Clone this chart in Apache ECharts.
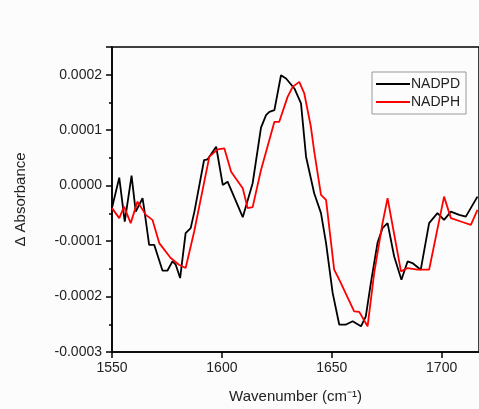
<!DOCTYPE html>
<html>
<head>
<meta charset="utf-8">
<script src="https://cdn.jsdelivr.net/npm/echarts@6/dist/echarts.min.js"></script>
<style>
  html, body { margin: 0; padding: 0; background: #fcfcfc; }
  #chart { width: 479px; height: 409px; }
</style>
</head>
<body>
<div id="chart"></div>
<script>
// Difference spectra: wavenumber (cm-1) and change in absorbance
const nadpdWavenumber = [1550, 1553.3, 1555.8, 1558.9, 1560.8, 1563.9, 1564.6, 1566.9, 1569.2, 1573.0,
  1575.2, 1577.5, 1579.0, 1581.0, 1583.5, 1585.8, 1587.5, 1591.9, 1593.5, 1597.4,
  1600.4, 1602.6, 1609.5, 1614.0, 1617.8, 1620.1, 1621.6, 1623.9, 1626.9, 1629.2,
  1633.0, 1636.0, 1638.3, 1642.0, 1645.1, 1647.4, 1650.4, 1653.4, 1656.5, 1659.5,
  1663.3, 1665.5, 1667.8, 1670.8, 1673.1, 1675.4, 1678.4, 1681.7, 1684.5, 1686.7,
  1690.5, 1694.3, 1698.1, 1701.1, 1704.2, 1708.0, 1711.0, 1716.3];
const nadpdDelta = [-0.0000401, 0.0000144, -0.0000648, 0.0000180, -0.0000468, -0.0000227, -0.0000406, -0.0001067, -0.0001067, -0.0001534,
  -0.0001534, -0.0001367, -0.0001426, -0.0001666, -0.0000856, -0.0000766, -0.0000468, 0.0000462, 0.0000475, 0.0000701,
  0.0000013, 0.0000072, -0.0000568, 0.0000043, 0.0001047, 0.0001272, 0.0001331, 0.0001362, 0.0001991, 0.0001932,
  0.0001752, 0.0001482, 0.0000522, -0.0000137, -0.0000496, -0.0001036, -0.0001935, -0.0002505, -0.0002505, -0.0002446,
  -0.0002536, -0.0002356, -0.0001755, -0.0001036, -0.0000766, -0.0000676, -0.0001277, -0.0001696, -0.0001367, -0.0001396,
  -0.0001516, -0.0000676, -0.0000496, -0.0000617, -0.0000468, -0.0000527, -0.0000558, -0.0000198];

const nadphWavenumber = [1550, 1553.3, 1555.5, 1558.5, 1561.6, 1565.4, 1568.4, 1571.5, 1576.7, 1580.5,
  1583.5, 1587.4, 1594.3, 1598.1, 1601.1, 1604.2, 1609.5, 1611.7, 1614.0, 1617.8,
  1623.9, 1626.1, 1629.9, 1632.2, 1635.2, 1637.5, 1640.5, 1642.0, 1645.1, 1647.4,
  1651.1, 1653.4, 1660.2, 1662.5, 1666.3, 1669.3, 1673.1, 1675.4, 1681.5, 1684.5,
  1689.0, 1694.3, 1701.1, 1704.2, 1708.7, 1713.3, 1716.3];
const nadphDelta = [-0.0000406, -0.0000586, -0.0000378, -0.0000676, -0.0000288, -0.0000527, -0.0000617, -0.0001036, -0.0001306, -0.0001426,
  -0.0001486, -0.0000827, 0.0000522, 0.0000655, 0.0000673, 0.0000252, -0.0000047, -0.0000406, -0.0000388, 0.0000282,
  0.0001151, 0.0001151, 0.0001601, 0.0001781, 0.0001871, 0.0001662, 0.0001061, 0.0000624, -0.0000167, -0.0000257,
  -0.0001516, -0.0001696, -0.0002266, -0.0002277, -0.0002536, -0.0001576, -0.0000676, -0.0000227, -0.0001547, -0.0001486,
  -0.0001516, -0.0001516, -0.0000198, -0.0000586, -0.0000647, -0.0000707, -0.0000437];

const seriesNames = ['NADPD', 'NADPH'];
const seriesColors = ['#000000', '#ff0000'];

const pairs = (xs, ys) => xs.map((x, i) => [x, ys[i]]);

const chart = echarts.init(document.getElementById('chart'), null, { renderer: 'canvas' });

const fontFamily = 'Liberation Sans, Arial, sans-serif';
const axisFont = { fontFamily: fontFamily, color: '#222', fontSize: 14 };

chart.setOption({
  backgroundColor: '#fcfcfc',
  animation: false,
  grid: {
    left: 112, top: 47, right: -3, bottom: 57,
    show: true, borderColor: '#000', borderWidth: 1.5, backgroundColor: 'transparent'
  },
  legend: {
    data: seriesNames,
    orient: 'vertical',
    left: 372, top: 72,
    itemWidth: 34, itemHeight: 2, itemGap: 4,
    icon: 'rect',
    padding: [5, 6, 5, 4],
    borderColor: '#999', borderWidth: 1,
    textStyle: { fontFamily: fontFamily, fontSize: 14, color: '#222', padding: [0, 0, 0, -4] }
  },
  xAxis: {
    type: 'value',
    min: 1550, max: 1717, interval: 50,
    name: 'Wavenumber (cm\u207B\u00B9)',
    nameLocation: 'middle', nameGap: 37,
    nameTextStyle: { fontFamily: fontFamily, fontSize: 15, color: '#222' },
    axisLine: { onZero: false, lineStyle: { color: '#000', width: 1.5 } },
    axisTick: { inside: false, length: 6, lineStyle: { color: '#000', width: 1.5 } },
    axisLabel: Object.assign({ margin: 9, showMaxLabel: false, formatter: v => String(v) }, axisFont),
    splitLine: { show: false }
  },
  yAxis: {
    type: 'value',
    min: -0.0003, max: 0.00025, interval: 0.0001,
    name: '\u0394 Absorbance',
    nameLocation: 'middle', nameGap: 84,
    nameTextStyle: { fontFamily: fontFamily, fontSize: 15, color: '#222' },
    axisLine: { show: true, onZero: false, lineStyle: { color: '#000', width: 1.5 } },
    axisTick: { inside: false, length: 6, lineStyle: { color: '#000', width: 1.5 } },
    minorTick: { show: true, splitNumber: 2, length: 3, lineStyle: { color: '#000', width: 1.5 } },
    axisLabel: Object.assign({
      margin: 10, showMaxLabel: false,
      formatter: v => (Math.abs(v) < 1e-9 ? 0 : v).toFixed(4)
    }, axisFont),
    splitLine: { show: false }
  },
  series: [
    {
      name: seriesNames[0], type: 'line', showSymbol: false, symbol: 'none',
      data: pairs(nadpdWavenumber, nadpdDelta),
      lineStyle: { color: seriesColors[0], width: 1.8 },
      itemStyle: { color: seriesColors[0] }, z: 3
    },
    {
      name: seriesNames[1], type: 'line', showSymbol: false, symbol: 'none',
      data: pairs(nadphWavenumber, nadphDelta),
      lineStyle: { color: seriesColors[1], width: 1.8 },
      itemStyle: { color: seriesColors[1] }, z: 4
    }
  ]
});
</script>
</body>
</html>
